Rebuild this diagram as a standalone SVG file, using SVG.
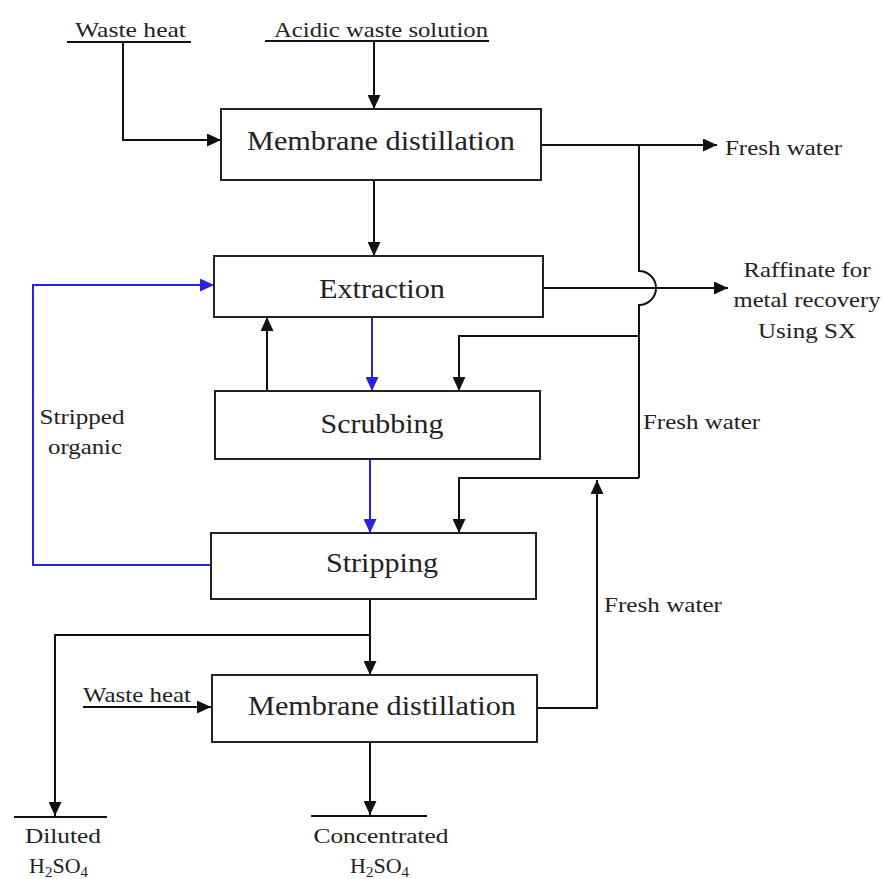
<svg xmlns="http://www.w3.org/2000/svg" width="883" height="879" viewBox="0 0 883 879">
<defs>
<marker id="ab" markerUnits="userSpaceOnUse" markerWidth="15" markerHeight="13" refX="14" refY="6.5" orient="auto">
<path d="M0,0 L14,6.5 L0,13 Z" fill="#111"/>
</marker>
<marker id="au" markerUnits="userSpaceOnUse" markerWidth="15" markerHeight="13" refX="14" refY="6.5" orient="auto">
<path d="M0,0 L14,6.5 L0,13 Z" fill="#2a1ee8"/>
</marker>
</defs>
<style>
.box{fill:#fff;stroke:#222;stroke-width:2}
.bt{font-family:"Liberation Serif","Times New Roman",serif;font-size:28px;fill:#222;text-anchor:middle}
.lt{font-family:"Liberation Serif","Times New Roman",serif;font-size:22px;fill:#222}
.ln{fill:none;stroke:#111;stroke-width:2}
.lb{fill:none;stroke:#2a1ee8;stroke-width:2}
</style>
<rect width="883" height="879" fill="#fff"/>
<g id="connectors">
<line class="ln" x1="67" y1="42" x2="191" y2="42"/>
<line class="ln" x1="265" y1="41" x2="489" y2="41"/>
<polyline class="ln" points="123,42 123,140 221,140" marker-end="url(#ab)"/>
<line class="ln" x1="374" y1="41" x2="374" y2="109" marker-end="url(#ab)"/>
<line class="ln" x1="541" y1="145" x2="717" y2="145" marker-end="url(#ab)"/>
<path class="ln" d="M639,145 L639,271 A17,17 0 0 1 639,305 L639,478"/>
<polyline class="ln" points="639,336 459,336 459,391" marker-end="url(#ab)"/>
<polyline class="ln" points="639,478 459,478 459,533" marker-end="url(#ab)"/>
<line class="ln" x1="543" y1="288" x2="728" y2="288" marker-end="url(#ab)"/>
<line class="ln" x1="374" y1="180" x2="374" y2="256" marker-end="url(#ab)"/>
<line class="lb" x1="372" y1="317" x2="372" y2="391" marker-end="url(#au)"/>
<line class="ln" x1="267" y1="391" x2="267" y2="317" marker-end="url(#ab)"/>
<line class="lb" x1="370" y1="459" x2="370" y2="533" marker-end="url(#au)"/>
<polyline class="lb" points="211,565 33,565 33,285 214,285" marker-end="url(#au)"/>
<line class="ln" x1="370" y1="599" x2="370" y2="675" marker-end="url(#ab)"/>
<polyline class="ln" points="370,635 55,635 55,816" marker-end="url(#ab)"/>
<line class="ln" x1="14" y1="817" x2="107" y2="817"/>
<line class="ln" x1="83" y1="707" x2="211" y2="707" marker-end="url(#ab)"/>
<polyline class="ln" points="537,708 597,708 597,480" marker-end="url(#ab)"/>
<line class="ln" x1="370" y1="742" x2="370" y2="815" marker-end="url(#ab)"/>
<line class="ln" x1="311" y1="816" x2="427" y2="816"/>
</g>
<g id="md1">
<rect class="box" x="221" y="109" width="320" height="71"/>
<text class="bt" x="381" y="150" textLength="268" lengthAdjust="spacingAndGlyphs">Membrane distillation</text>
</g>
<g id="extraction">
<rect class="box" x="214" y="256" width="329" height="61"/>
<text class="bt" x="382" y="298" textLength="126" lengthAdjust="spacingAndGlyphs">Extraction</text>
</g>
<g id="scrubbing">
<rect class="box" x="215" y="391" width="325" height="68"/>
<text class="bt" x="382" y="433" textLength="123" lengthAdjust="spacingAndGlyphs">Scrubbing</text>
</g>
<g id="stripping">
<rect class="box" x="211" y="533" width="325" height="66"/>
<text class="bt" x="382" y="572" textLength="112" lengthAdjust="spacingAndGlyphs">Stripping</text>
</g>
<g id="md2">
<rect class="box" x="212" y="675" width="325" height="67"/>
<text class="bt" x="382" y="715" textLength="268" lengthAdjust="spacingAndGlyphs">Membrane distillation</text>
</g>
<g id="labels">
<text class="lt" x="75" y="37" textLength="111" lengthAdjust="spacingAndGlyphs">Waste heat</text>
<text class="lt" x="274" y="37" textLength="214" lengthAdjust="spacingAndGlyphs">Acidic waste solution</text>
<text class="lt" x="725" y="155" textLength="117" lengthAdjust="spacingAndGlyphs">Fresh water</text>
<text class="lt" x="807" y="277" text-anchor="middle" textLength="127" lengthAdjust="spacingAndGlyphs">Raffinate for</text>
<text class="lt" x="807" y="307" text-anchor="middle" textLength="147" lengthAdjust="spacingAndGlyphs">metal recovery</text>
<text class="lt" x="807" y="338" text-anchor="middle" textLength="98" lengthAdjust="spacingAndGlyphs">Using SX</text>
<text class="lt" x="643" y="429" textLength="117" lengthAdjust="spacingAndGlyphs">Fresh water</text>
<text class="lt" x="82" y="424" text-anchor="middle" textLength="85" lengthAdjust="spacingAndGlyphs">Stripped</text>
<text class="lt" x="85" y="454" text-anchor="middle" textLength="74" lengthAdjust="spacingAndGlyphs">organic</text>
<text class="lt" x="604" y="612" textLength="118" lengthAdjust="spacingAndGlyphs">Fresh water</text>
<text class="lt" x="83" y="702" textLength="108" lengthAdjust="spacingAndGlyphs">Waste heat</text>
<text class="lt" x="63" y="843" text-anchor="middle" textLength="76" lengthAdjust="spacingAndGlyphs">Diluted</text>
<text class="lt" x="29" y="873" font-size="24">H<tspan font-size="15" dy="4">2</tspan><tspan dy="-4">SO</tspan><tspan font-size="15" dy="4">4</tspan></text>
<text class="lt" x="381" y="843" text-anchor="middle" textLength="135" lengthAdjust="spacingAndGlyphs">Concentrated</text>
<text class="lt" x="350" y="873" font-size="24">H<tspan font-size="15" dy="4">2</tspan><tspan dy="-4">SO</tspan><tspan font-size="15" dy="4">4</tspan></text>
</g>
</svg>
